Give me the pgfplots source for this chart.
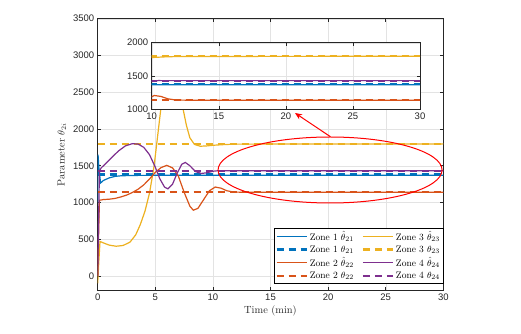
\documentclass[border=0pt]{standalone}
\usepackage{fontspec}
\setsansfont{Liberation Sans}
\usepackage{amsmath}
\usepackage{pgfplots}
\usepackage{pgfplotstable}
\pgfplotsset{compat=1.18}
\usetikzlibrary{arrows.meta}

\definecolor{c1}{rgb}{0,0.447,0.741}
\definecolor{c2}{rgb}{0.85,0.325,0.098}
\definecolor{c3}{rgb}{0.929,0.694,0.125}
\definecolor{c4}{rgb}{0.494,0.184,0.556}
\definecolor{axc}{rgb}{0.15,0.15,0.15}

% estimated parameters (solid)
\pgfplotstableread{
t y
0 1000
0.03 1650
0.1 1480
0.25 1265
0.5 1300
1 1335
1.5 1355
2 1363
3 1368
5 1370
30 1370
}\zoneA
\pgfplotstableread{
t y
0 0
0.15 1030
0.5 1040
1 1045
1.5 1055
2 1075
2.5 1100
3 1135
3.5 1180
4 1240
4.5 1320
5 1410
5.5 1475
6 1505
6.5 1470
7 1360
7.5 1140
8 950
8.3 895
8.7 920
9.2 1040
9.7 1160
10.2 1210
10.7 1195
11.2 1160
11.8 1142
12.5 1140
30 1140
}\zoneB
\pgfplotstableread{
t y
0 -100
0.1 200
0.2 470
0.5 450
1 420
1.6 405
2.2 415
2.8 460
3.3 560
3.7 700
4.1 880
4.5 1130
4.9 1500
5.2 1900
5.5 2300
5.8 2650
6.2 2900
6.5 2950
6.8 2800
7.1 2550
7.4 2280
7.7 2050
8 1880
8.4 1790
8.9 1765
9.5 1770
10 1778
11 1788
12 1794
30 1797
}\zoneC
\pgfplotstableread{
t y
0 0
0.15 1430
0.3 1470
0.7 1530
1.2 1610
1.8 1700
2.4 1770
3 1800
3.5 1795
4 1750
4.5 1650
5 1480
5.4 1320
5.8 1210
6.1 1185
6.5 1250
6.9 1400
7.3 1520
7.6 1545
8 1500
8.5 1420
9 1395
9.5 1405
10 1425
10.5 1433
11 1432
30 1432
}\zoneD

\pgfplotsset{
  mstyle/.style={
    scale only axis,
    axis line style={axc, line width=0.5pt},
    tick style={axc, line width=0.5pt},
    major tick length=3.5pt,
    tick align=inside,
    grid=major,
    grid style={gray!22, line width=0.4pt},
    tick label style={font=\sffamily\fontsize{9.5}{11}\selectfont, text=axc},
    /pgf/number format/assume math mode=true,
    /pgf/number format/1000 sep={},
  },
  est/.style={line width=1.2pt},
  tru/.style={line width=2.2pt, dash pattern=on 7pt off 5pt},
}

\begin{document}
\begin{tikzpicture}
\begin{axis}[
    name=main, mstyle,
    width=345.6pt, height=272pt,
    xmin=0, xmax=30, ymin=-200, ymax=3500,
    xtick={0,5,...,30}, ytick={0,500,...,3500},
    xlabel={Time (min)},
    ylabel={Parameter $\theta_{2i}$},
    label style={font=\fontsize{10.4}{12}\selectfont, text=axc},
    xlabel style={yshift=2pt},
    legend columns=2,
    legend cell align=left,
    legend style={at={(1,0.028)}, anchor=south east, draw=black, fill=white,
      font=\fontsize{9.5}{11}\selectfont, inner sep=1.2pt, row sep=0pt,
      /tikz/every even column/.append style={column sep=6pt}},
    legend image code/.code={\draw[#1] (0pt,0pt) -- (30pt,0pt);},
]
\addplot[est, c1] table {\zoneA};
\addlegendentry{Zone 1 $\hat{\theta}_{21}$}
\addplot[est, c3] table {\zoneC};
\addlegendentry{Zone 3 $\hat{\theta}_{23}$}
\addplot[tru, c1] coordinates {(0,1380) (30,1380)};
\addlegendentry{Zone 1 $\theta_{21}$}
\addplot[tru, c3] coordinates {(0,1800) (30,1800)};
\addlegendentry{Zone 3 $\theta_{23}$}
\addplot[est, c2] table {\zoneB};
\addlegendentry{Zone 2 $\hat{\theta}_{22}$}
\addplot[est, c4] table {\zoneD};
\addlegendentry{Zone 4 $\hat{\theta}_{24}$}
\addplot[tru, c2] coordinates {(0,1140) (30,1140)};
\addlegendentry{Zone 2 $\theta_{22}$}
\addplot[tru, c4] coordinates {(0,1432) (30,1432)};
\addlegendentry{Zone 4 $\theta_{24}$}
\draw[red, line width=1pt] (axis cs:20.17,1442) ellipse [x radius=112pt, y radius=33pt];
\draw[red, line width=1pt, -{Stealth[length=7pt, width=6pt]}] (axis cs:20.2,1895) -- (axis cs:17.13,2217);
\end{axis}

\begin{axis}[
    mstyle,
    at={(main.north west)}, anchor=north west,
    xshift=54pt, yshift=-24pt,
    width=268.3pt, height=66.8pt,
    xmin=10, xmax=30, ymin=1000, ymax=2000,
    xtick={10,15,...,30}, ytick={1000,1500,2000},
    axis background/.style={fill=white},
]
\addplot[est, c1] table {\zoneA};
\addplot[est, c3] table {\zoneC};
\addplot[tru, c1] coordinates {(0,1380) (30,1380)};
\addplot[tru, c3] coordinates {(0,1800) (30,1800)};
\addplot[est, c2] table {\zoneB};
\addplot[est, c4] table {\zoneD};
\addplot[tru, c2] coordinates {(0,1140) (30,1140)};
\addplot[tru, c4] coordinates {(0,1432) (30,1432)};
\end{axis}
\path (main.south west) ++(-97.7pt,-42.3pt) rectangle ++(521pt,333pt);
\end{tikzpicture}
\end{document}
